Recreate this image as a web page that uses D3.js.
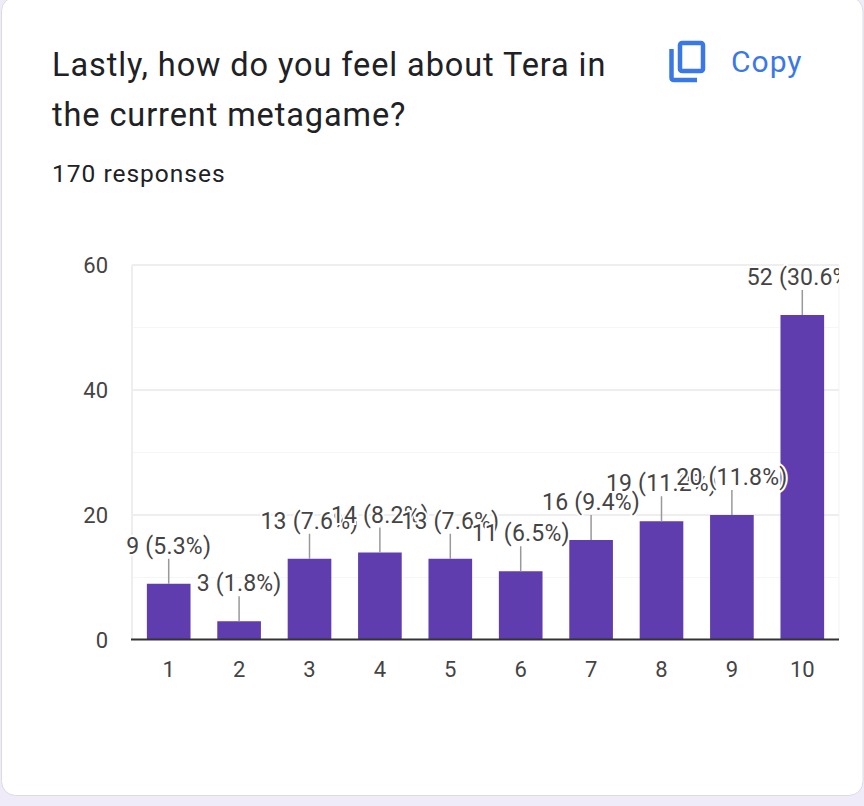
<!DOCTYPE html>
<html>
<head>
<meta charset="utf-8">
<script src="https://cdn.jsdelivr.net/npm/d3@7"></script>
<style>
  html, body { margin: 0; padding: 0; background: #f0ebf8; }
  svg { display: block; }
  text { font-family: Roboto, sans-serif; }
</style>
</head>
<body>
<div id="chart"></div>
<script>
// values
var categories = ["1", "2", "3", "4", "5", "6", "7", "8", "9", "10"];
var counts = [9, 3, 13, 14, 13, 11, 16, 19, 20, 52];
var percents = ["5.3", "1.8", "7.6", "8.2", "7.6", "6.5", "9.4", "11.2", "11.8", "30.6"];
var majorTicks = [0, 20, 40, 60];
var minorTicks = [10, 30, 50];
var titleLines = ["Lastly, how do you feel about Tera in", "the current metagame?"];
var subtitle = "170 responses";

var width = 864, height = 806;
var margin = { top: 265, right: 25, bottom: 166, left: 132 };

var svg = d3.select("#chart").append("svg")
    .attr("width", width)
    .attr("height", height);

// card
svg.append("rect")
    .attr("x", 1.5).attr("y", -3)
    .attr("width", 861.5).attr("height", 798.5)
    .attr("rx", 14)
    .attr("fill", "#fff")
    .attr("stroke", "#dadce0");

svg.selectAll(".title")
    .data(titleLines)
    .enter()
    .append("text")
    .attr("class", "title")
    .attr("x", 52)
    .attr("y", function(d, i) { return 76 + i * 50; })
    .attr("font-size", 32.5)
    .attr("letter-spacing", 0.9)
    .attr("fill", "#202124")
    .text(function(d) { return d; });

svg.append("text")
    .attr("x", 52).attr("y", 182)
    .attr("font-size", 24.5)
    .attr("letter-spacing", 1)
    .attr("fill", "#202124")
    .text(subtitle);

// copy icon
var icon = svg.append("g").attr("fill", "none").attr("stroke", "#3b78e7").attr("stroke-width", 4.5);
icon.append("rect").attr("x", 680).attr("y", 43).attr("width", 23).attr("height", 28).attr("rx", 2);
icon.append("path").attr("d", "M671.5 49V77.5Q671.5 80 674 80H697");

svg.append("text")
    .attr("x", 731).attr("y", 72)
    .attr("font-size", 30)
    .attr("letter-spacing", 1)
    .attr("fill", "#3b78e7")
    .text("Copy");

// bars sit a little inside the plot frame
var x = d3.scaleBand()
    .domain(categories)
    .range([133.5, 837.5])
    .paddingInner(0.38)
    .paddingOuter(0.19);

var y = d3.scaleLinear()
    .domain([0, 60])
    .range([height - margin.bottom, margin.top]);

svg.append("clipPath").attr("id", "plot-clip")
    .append("rect")
    .attr("x", 0).attr("y", 0)
    .attr("width", width - margin.right).attr("height", height);

// gridlines
svg.selectAll(".minor")
    .data(minorTicks)
    .enter()
    .append("line")
    .attr("class", "minor")
    .attr("x1", margin.left).attr("x2", width - margin.right)
    .attr("y1", function(d) { return y(d); })
    .attr("y2", function(d) { return y(d); })
    .attr("stroke", "#f6f6f6");

svg.selectAll(".major")
    .data(majorTicks.slice(1))
    .enter()
    .append("line")
    .attr("class", "major")
    .attr("x1", margin.left).attr("x2", width - margin.right)
    .attr("y1", function(d) { return y(d); })
    .attr("y2", function(d) { return y(d); })
    .attr("stroke", "#eeeeee")
    .attr("stroke-width", 2);

svg.append("line")
    .attr("x1", margin.left).attr("x2", margin.left)
    .attr("y1", margin.top).attr("y2", y(0))
    .attr("stroke", "#eeeeee")
    .attr("stroke-width", 2);

svg.append("line")
    .attr("x1", width - margin.right).attr("x2", width - margin.right)
    .attr("y1", margin.top).attr("y2", y(0))
    .attr("stroke", "#f3f3f3");

// y tick labels
svg.selectAll(".ylab")
    .data(majorTicks)
    .enter()
    .append("text")
    .attr("class", "ylab")
    .attr("x", 108)
    .attr("y", function(d) { return y(d) + 8; })
    .attr("text-anchor", "end")
    .attr("font-size", 22)
    .attr("fill", "#444")
    .text(function(d) { return d; });

// bars
svg.selectAll(".bar")
    .data(counts)
    .enter()
    .append("rect")
    .attr("class", "bar")
    .attr("x", function(d, i) { return x(categories[i]); })
    .attr("y", function(d) { return y(d); })
    .attr("width", x.bandwidth())
    .attr("height", function(d) { return y(0) - y(d); })
    .attr("fill", "#5f3dae");

// baseline
svg.append("line")
    .attr("x1", margin.left - 1).attr("x2", width - margin.right)
    .attr("y1", y(0) - 0.5).attr("y2", y(0) - 0.5)
    .attr("stroke", "#333")
    .attr("stroke-width", 2);

// x tick labels
svg.selectAll(".xlab")
    .data(categories)
    .enter()
    .append("text")
    .attr("class", "xlab")
    .attr("x", function(d) { return x(d) + x.bandwidth() / 2; })
    .attr("y", 677)
    .attr("text-anchor", "middle")
    .attr("font-size", 22)
    .attr("fill", "#444")
    .text(function(d) { return d; });

// leader lines and value labels, later ones sit on top of earlier ones
var labels = svg.append("g").attr("clip-path", "url(#plot-clip)");

counts.forEach(function(d, i) {
    var cx = x(categories[i]) + x.bandwidth() / 2;
    labels.append("line")
        .attr("x1", cx).attr("x2", cx)
        .attr("y1", y(d)).attr("y2", y(d) - 25)
        .attr("stroke", "#999")
        .attr("stroke-width", 1.5);
    labels.append("text")
        .attr("x", cx)
        .attr("y", y(d) - 30)
        .attr("text-anchor", "middle")
        .attr("font-size", 23)
        .attr("letter-spacing", 0.2)
        .attr("fill", "#444")
        .attr("stroke", "#fff")
        .attr("stroke-width", 4)
        .attr("paint-order", "stroke")
        .text(d + " (" + percents[i] + "%)");
});
</script>
</body>
</html>
